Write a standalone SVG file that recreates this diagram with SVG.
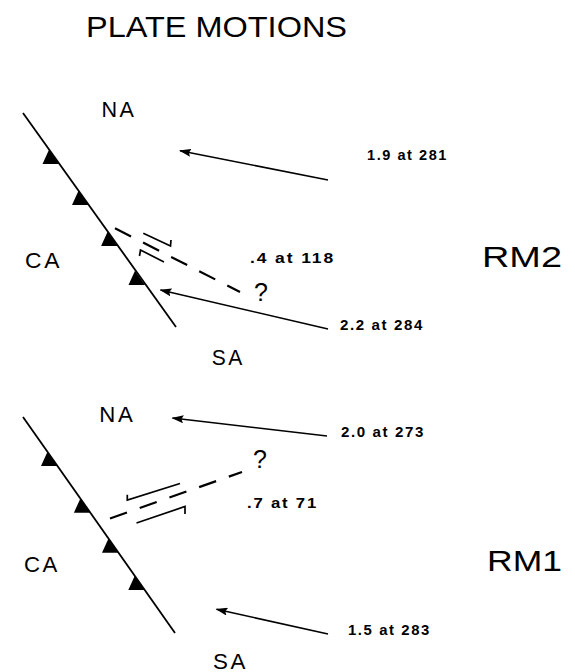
<svg xmlns="http://www.w3.org/2000/svg" width="575" height="672" viewBox="0 0 575 672">
<style>
  .lbl { font-family: "Liberation Sans", Arial, sans-serif; fill: #000; }
  .big { font-size: 21.5px; letter-spacing: 2.5px; }
  .num { font-size: 14px; font-weight: bold; letter-spacing: 1.5px; }
  .rm { font-size: 30px; }
  .q { font-size: 25px; }
  .trench { stroke: #000; stroke-width: 1.8; fill: none; }
  .vec { stroke: #000; stroke-width: 1.6; fill: none; marker-end: url(#ah); }
  .tf { stroke: #000; stroke-width: 2.2; fill: none; stroke-dasharray: 18 13.5; }
  .slip { stroke: #000; stroke-width: 1.7; fill: none; }
</style>
<defs>
  <marker id="ah" viewBox="0 0 12 8" refX="11" refY="4" markerWidth="12" markerHeight="8" markerUnits="userSpaceOnUse" orient="auto">
    <path d="M0,0 L12,4 L0,8 L2,4 z" fill="#000"/>
  </marker>
  <polygon id="tri" points="-10,-14.2 0,0 -16.5,0" fill="#000"/>
</defs>
<rect width="575" height="672" fill="#fff"/>

<g id="title">
  <text class="lbl" x="86" y="37" font-size="30" textLength="261" lengthAdjust="spacingAndGlyphs">PLATE MOTIONS</text>
</g>

<!-- RM2 panel -->
<g id="rm2-trench">
  <line class="trench" x1="23" y1="113" x2="176" y2="327"/>
  <use href="#tri" x="59" y="164"/>
  <use href="#tri" x="88.5" y="205"/>
  <use href="#tri" x="117.6" y="246"/>
  <use href="#tri" x="145" y="285"/>
</g>
<g id="rm2-transform">
  <line class="tf" x1="115" y1="228.3" x2="240" y2="292"/>
  <polyline class="slip" points="143.3,233.3 170.5,246 171,240"/>
  <polyline class="slip" points="139.5,256 140.5,250 164,262"/>
</g>
<g id="rm2-NA"><text class="lbl big" x="101.5" y="116.7" textLength="35" lengthAdjust="spacingAndGlyphs">NA</text></g>
<g id="rm2-CA"><text class="lbl big" x="25" y="268" textLength="37" lengthAdjust="spacingAndGlyphs">CA</text></g>
<g id="rm2-SA"><text class="lbl big" x="211.7" y="365" textLength="33" lengthAdjust="spacingAndGlyphs">SA</text></g>
<g id="rm2-label"><text class="lbl rm" x="482" y="267" textLength="80" lengthAdjust="spacingAndGlyphs">RM2</text></g>
<g id="rm2-v1"><text class="lbl num" x="367" y="160" textLength="81" lengthAdjust="spacingAndGlyphs">1.9 at 281</text></g>
<g id="rm2-v2"><text class="lbl num" x="250" y="263" textLength="85" lengthAdjust="spacingAndGlyphs">.4 at 118</text></g>
<g id="rm2-q"><text class="lbl q" x="254" y="300.5">?</text></g>
<g id="rm2-v3"><text class="lbl num" x="340" y="330" textLength="84" lengthAdjust="spacingAndGlyphs">2.2 at 284</text></g>

<!-- RM1 panel -->
<g id="rm1-trench">
  <line class="trench" x1="23" y1="417" x2="175" y2="633"/>
  <use href="#tri" x="57.5" y="466"/>
  <use href="#tri" x="90.4" y="512.7"/>
  <use href="#tri" x="118.5" y="552.7"/>
  <use href="#tri" x="144.8" y="590"/>
</g>
<g id="rm1-transform">
  <line class="tf" x1="110" y1="518.5" x2="242" y2="472"/>
  <polyline class="slip" points="127.3,494.7 127.3,500 180,483.5"/>
  <polyline class="slip" points="136.5,523 185,506.5 185,514"/>
</g>
<g id="rm1-NA"><text class="lbl big" x="99.3" y="421.7" textLength="36" lengthAdjust="spacingAndGlyphs">NA</text></g>
<g id="rm1-CA"><text class="lbl big" x="24" y="572" textLength="36" lengthAdjust="spacingAndGlyphs">CA</text></g>
<g id="rm1-SA"><text class="lbl big" x="213" y="668.5" textLength="35" lengthAdjust="spacingAndGlyphs">SA</text></g>
<g id="rm1-label"><text class="lbl rm" x="487" y="571" textLength="75" lengthAdjust="spacingAndGlyphs">RM1</text></g>
<g id="rm1-v1"><text class="lbl num" x="341" y="437.3" textLength="84" lengthAdjust="spacingAndGlyphs">2.0 at 273</text></g>
<g id="rm1-q"><text class="lbl q" x="253" y="468.3">?</text></g>
<g id="rm1-v2"><text class="lbl num" x="247" y="508.3" textLength="71" lengthAdjust="spacingAndGlyphs">.7 at 71</text></g>
<g id="rm1-v3"><text class="lbl num" x="348" y="635" textLength="83" lengthAdjust="spacingAndGlyphs">1.5 at 283</text></g>

<g id="connectors">
  <line class="vec" x1="328" y1="180" x2="180" y2="150.7"/>
  <line class="vec" x1="328" y1="329" x2="160.5" y2="290"/>
  <line class="vec" x1="327" y1="436" x2="172.5" y2="418"/>
  <line class="vec" x1="328" y1="634" x2="216.5" y2="609.3"/>
</g>
</svg>
